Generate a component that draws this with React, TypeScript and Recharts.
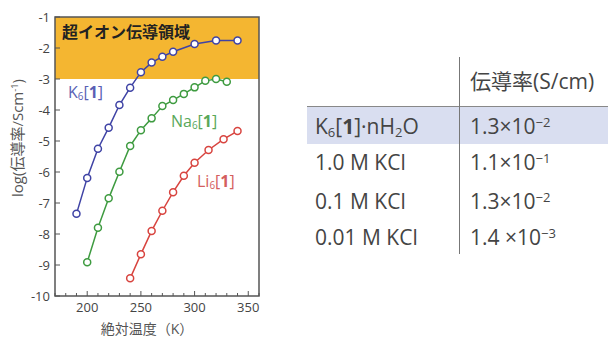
import React from "react";
import {
  LineChart,
  Line,
  XAxis,
  YAxis,
  ReferenceArea,
} from "recharts";

// 温度 (K) と log(伝導率)
const kTemp = [190, 200, 210, 220, 230, 240, 250, 260, 270, 280, 300, 320, 340];
const kLog = [-7.35, -6.19, -5.25, -4.57, -3.84, -3.28, -2.78, -2.47, -2.28, -2.12, -1.87, -1.76, -1.76];

const naTemp = [200, 210, 220, 230, 240, 250, 260, 270, 280, 290, 300, 310, 320, 330];
const naLog = [-8.91, -7.8, -6.85, -5.99, -5.16, -4.65, -4.27, -3.87, -3.68, -3.48, -3.27, -3.06, -3.0, -3.09];

const liTemp = [240, 250, 260, 270, 280, 290, 300, 313, 327, 340];
const liLog = [-9.43, -8.65, -7.9, -7.25, -6.65, -6.12, -5.7, -5.29, -4.94, -4.68];

const xTicks = [170, 180, 190, 200, 210, 220, 230, 240, 250, 260, 270, 280, 290, 300, 310, 320, 330, 340, 350, 360];
const xLabels = [200, 250, 300, 350];
const yTicks = [-1, -2, -3, -4, -5, -6, -7, -8, -9, -10];

// 表
const tableRows = ["K6[1]·nH2O", "1.0 M KCl", "0.1 M KCl", "0.01 M KCl"];
const tableMant = ["1.3", "1.1", "1.3", "1.4 "];
const tableExp = ["−2", "−1", "−2", "−3"];

const toPts = (t: number[], v: number[]) => t.map((x, i) => ({ t: x, v: v[i] }));
const kData = toPts(kTemp, kLog);
const naData = toPts(naTemp, naLog);
const liData = toPts(liTemp, liLog);

const BLUE = "#3f43a5";
const GREEN = "#3e9b40";
const RED = "#d8443f";
const ORANGE = "#f4b631";
const FRAME = "#555";
const TXT = "#444";
const FONT = '"Open Sans", "Noto Sans CJK JP", sans-serif';

const XTick = (props: any) => {
  const { x, y, payload } = props;
  const major = xLabels.includes(payload.value);
  return (
    <g>
      <line x1={x} x2={x} y1={y} y2={y - (major ? 5 : 3)} stroke={FRAME} strokeWidth={1} />
      {major && (
        <text x={x} y={y + 16} textAnchor="middle" fontSize={13} fill={TXT} fontFamily={FONT}>
          {payload.value}
        </text>
      )}
    </g>
  );
};

const YTick = (props: any) => {
  const { x, y, payload } = props;
  return (
    <g>
      <line x1={x} x2={x + 5} y1={y} y2={y} stroke={FRAME} strokeWidth={1} />
      <text x={x - 5} y={y + 4.5} textAnchor="end" fontSize={13} fill={TXT} fontFamily={FONT}>
        {payload.value}
      </text>
    </g>
  );
};

const dot = (c: string) => ({ r: 3.5, fill: "#fff", stroke: c, strokeWidth: 1.5 });

const Sub = ({ children }: { children: React.ReactNode }) => (
  <span style={{ fontSize: "0.62em", position: "relative", top: "0.25em", lineHeight: 0 }}>{children}</span>
);
const Sup = ({ children }: { children: React.ReactNode }) => (
  <span style={{ fontSize: "0.62em", position: "relative", top: "-0.55em", lineHeight: 0 }}>{children}</span>
);

const seriesLabel = (name: string, color: string, left: number, top: number) => (
  <div
    style={{
      position: "absolute",
      left,
      top,
      color,
      fontSize: 16,
      fontFamily: FONT,
      lineHeight: "20px",
      whiteSpace: "nowrap",
    }}
  >
    {name}
    <Sub>6</Sub>[<b>1</b>]
  </div>
);

const cell = (left: number, top: number): React.CSSProperties => ({
  position: "absolute",
  left,
  top,
  fontSize: 21,
  color: TXT,
  whiteSpace: "pre",
  lineHeight: "26px",
});

export default function App() {
  return (
    <div
      style={{
        position: "absolute",
        left: 0,
        top: 0,
        width: 608,
        height: 340,
        background: "#fff",
        overflow: "hidden",
        fontFamily: FONT,
      }}
    >
      <LineChart width={270} height={340} margin={{ top: 17, right: 11, left: 0, bottom: 0 }}>
        <XAxis
          dataKey="t"
          type="number"
          domain={[170, 360]}
          ticks={xTicks}
          allowDuplicatedCategory={false}
          axisLine={false}
          tickLine={false}
          tickSize={0}
          tickMargin={0}
          height={44}
          interval={0}
          tick={<XTick />}
        />
        <YAxis
          type="number"
          domain={[-10, -1]}
          ticks={yTicks}
          axisLine={false}
          tickLine={false}
          tickSize={0}
          tickMargin={0}
          width={55}
          interval={0}
          tick={<YTick />}
        />
        <ReferenceArea x1={170} x2={360} y1={-3} y2={-1} fill={ORANGE} fillOpacity={1} stroke="none" />
        <Line data={kData} dataKey="v" stroke={BLUE} strokeWidth={1.5} dot={dot(BLUE)} isAnimationActive={false} />
        <Line data={naData} dataKey="v" stroke={GREEN} strokeWidth={1.5} dot={dot(GREEN)} isAnimationActive={false} />
        <Line data={liData} dataKey="v" stroke={RED} strokeWidth={1.5} dot={dot(RED)} isAnimationActive={false} />
        <ReferenceArea x1={170} x2={360} y1={-10} y2={-1} fill="none" stroke={FRAME} strokeWidth={1.5} />
      </LineChart>

      {/* 軸タイトル */}
      <div
        style={{
          position: "absolute",
          left: 97,
          top: 319,
          width: 100,
          textAlign: "center",
          fontSize: 14,
          lineHeight: "19px",
          color: "#555",
          whiteSpace: "nowrap",
        }}
      >
        絶対温度（K）
      </div>
      <div
        style={{
          position: "absolute",
          left: 16,
          top: 138,
          transform: "translate(-50%, -50%) rotate(-90deg)",
          fontSize: 15,
          color: "#555",
          whiteSpace: "nowrap",
        }}
      >
        log(伝導率/Scm<Sup>-1</Sup>)
      </div>
      <div
        style={{
          position: "absolute",
          left: 62,
          top: 19,
          fontSize: 16,
          fontWeight: "bold",
          color: "#222",
          whiteSpace: "nowrap",
          fontFamily: '"Noto Sans CJK JP", sans-serif',
        }}
      >
        超イオン伝導領域
      </div>
      {seriesLabel("K", "#5a5fb5", 68, 82)}
      {seriesLabel("Na", "#5aa85a", 171, 111)}
      {seriesLabel("Li", "#d45e5e", 197, 171)}

      {/* 表 */}
      <div style={{ position: "absolute", left: 307, top: 107, width: 301, height: 37, background: "#d9def0" }} />
      <div style={{ position: "absolute", left: 307, top: 106, width: 301, height: 1, background: "#888" }} />
      <div style={{ position: "absolute", left: 459, top: 57, width: 1, height: 197, background: "#777" }} />
      <div style={cell(470, 68)}>伝導率(S/cm)</div>
      {tableRows.map((r, i) => {
        const top = [113, 149, 188, 224][i];
        return (
          <React.Fragment key={r}>
            <div style={cell(315, top)}>
              {i === 0 ? (
                <>
                  K<Sub>6</Sub>[<b>1</b>]·nH<Sub>2</Sub>O
                </>
              ) : (
                r
              )}
            </div>
            <div style={cell(470, top)}>
              {tableMant[i]}×10<Sup>{tableExp[i]}</Sup>
            </div>
          </React.Fragment>
        );
      })}
    </div>
  );
}
